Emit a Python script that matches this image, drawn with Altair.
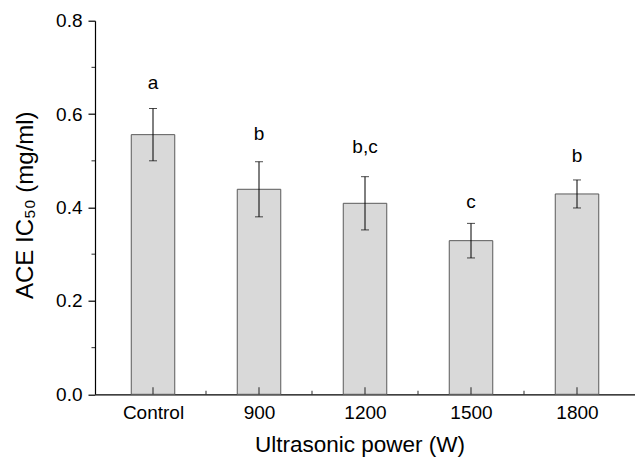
import altair as alt
import pandas as pd

# ---- data ----
categories = ["Control", "900", "1200", "1500", "1800"]
means = [0.556, 0.439, 0.409, 0.329, 0.429]
errors = [0.056, 0.059, 0.057, 0.037, 0.030]
letters = ["a", "b", "b,c", "c", "b"]
letter_y = [0.653, 0.545, 0.516, 0.398, 0.498]
y_ticks = [0.0, 0.2, 0.4, 0.6, 0.8]
y_minor = [0.1, 0.3, 0.5, 0.7]
x_major = [0, 1, 2, 3, 4]
x_minor = [0.5, 1.5, 2.5, 3.5]

FONT = "Liberation Sans"

df = pd.DataFrame({
    "idx": list(range(len(categories))),
    "cat": categories,
    "mean": means,
    "err": errors,
    "letter": letters,
    "ly": letter_y,
})
xmaj_df = pd.DataFrame({"idx": x_major})
xmin_df = pd.DataFrame({"idx": x_minor})
ymin_df = pd.DataFrame({"mean": y_minor})

label_expr = "[" + ",".join("'%s'" % c for c in categories) + "][datum.value]"

x_scale = alt.Scale(domain=[-0.5, len(categories) - 0.5], nice=False, zero=False)
y_scale = alt.Scale(domain=[0, 0.8], nice=False, zero=True)

x_axis = alt.Axis(
    values=x_major, labelExpr=label_expr, title="Ultrasonic power (W)",
    tickSize=0, labelPadding=24.5, labelBaseline="alphabetic",
    labelFlush=False, labelOverlap=False, grid=False,
    titleX=264.5, titleY=57, titleBaseline="alphabetic", titleAlign="center",
    titleFontSize=22.5,
)
y_axis = alt.Axis(
    values=y_ticks, format=".1f", title="ACE IC₅₀ (mg/ml)",
    tickSize=7, labelPadding=6, grid=False,
    titleX=-63, titleY=184, titleAngle=270, titleBaseline="alphabetic",
    titleAlign="center", titleFontSize=24,
)

X = lambda f: alt.X(f, type="quantitative", scale=x_scale, axis=x_axis)
Y = lambda f: alt.Y(f, type="quantitative", scale=y_scale, axis=y_axis)

base = alt.Chart(df)

bars = base.mark_bar(size=43.5, color="#d9d9d9", stroke="#5a5a5a", strokeWidth=1).encode(
    x=X("idx"), y=Y("mean")
)

err_rule = base.transform_calculate(
    lo="datum.mean - datum.err", hi="datum.mean + datum.err"
).mark_rule(color="black", strokeWidth=1).encode(
    x=X("idx"), y=Y("lo"), y2="hi:Q"
)

caps = base.transform_calculate(
    lo="datum.mean - datum.err", hi="datum.mean + datum.err"
).transform_fold(["lo", "hi"], as_=["k", "v"]).mark_tick(
    orient="horizontal", size=8, thickness=1, color="black"
).encode(x=X("idx"), y=Y("v"))

texts = base.mark_text(
    font=FONT, fontSize=19, baseline="alphabetic", align="center", color="black"
).encode(x=X("idx"), y=Y("ly"), text="letter:N")

xmaj = alt.Chart(xmaj_df).mark_tick(
    orient="vertical", size=7, thickness=1.2, color="black", yOffset=-3.5
).encode(x=X("idx"), y=alt.datum(0))

xmin = alt.Chart(xmin_df).mark_tick(
    orient="vertical", size=3.5, thickness=1.2, color="black", yOffset=-1.75
).encode(x=X("idx"), y=alt.datum(0))

ymin = alt.Chart(ymin_df).mark_tick(
    orient="horizontal", size=3.5, thickness=1.2, color="black", xOffset=-1.75
).encode(x=alt.value(0), y=Y("mean"))

chart = alt.layer(bars, err_rule, caps, texts, xmaj, xmin, ymin).properties(
    width=540, height=373.6,
    padding={"left": 95, "top": 20.7, "right": 0, "bottom": 62.7},
    autosize=alt.AutoSizeParams(type="none"),
    background="white",
).configure_view(stroke=None).configure_axis(
    domainColor="black", domainWidth=1.2, tickColor="black", tickWidth=1.2,
    labelColor="black", titleColor="black", labelFont=FONT, titleFont=FONT,
    labelFontSize=19, titleFontWeight="normal",
)

chart.save("out.html", embed_options={"renderer": "svg", "actions": False})
